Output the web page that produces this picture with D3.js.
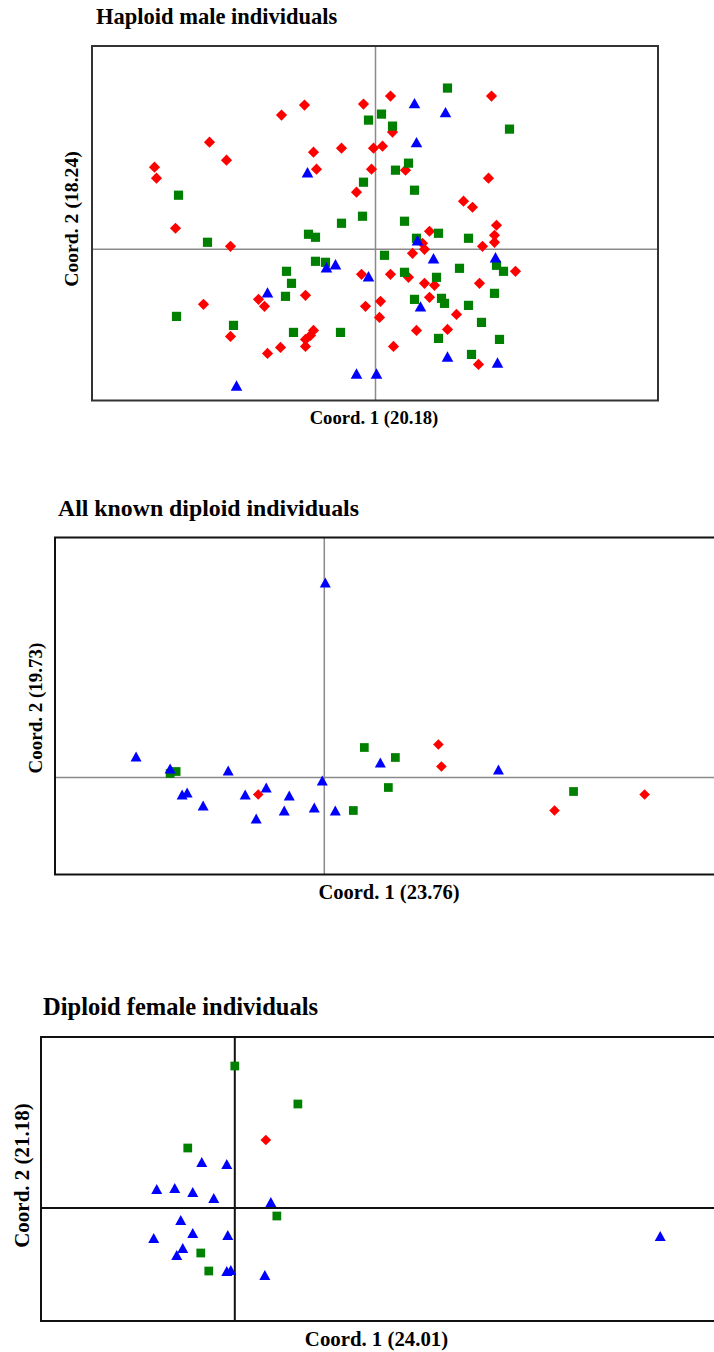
<!DOCTYPE html>
<html>
<head>
<meta charset="utf-8">
<script src="https://cdn.jsdelivr.net/npm/d3@7"></script>
<style>
  html, body { margin: 0; padding: 0; background: #fff; }
  svg { display: block; }
  text { font-family: "Liberation Serif", "Times New Roman", serif; font-weight: bold; fill: #000; }
</style>
</head>
<body>
<svg id="chart" width="714" height="1352"></svg>
<script>
// ---------- Titles and axis labels ----------
const panelTitles = ["Haploid male individuals", "All known diploid individuals", "Diploid female individuals"];
const xLabels = ["Coord. 1 (20.18)", "Coord. 1 (23.76)", "Coord. 1 (24.01)"];
const yLabels = ["Coord. 2 (18.24)", "Coord. 2 (19.73)", "Coord. 2 (21.18)"];

// ---------- Panel 1: Haploid male individuals (Coord.1, Coord.2) ----------
const p1Red = [
  [-2.21,0.82],[-2.19,0.71],[-1.66,1.07],[-1.49,0.89],[-0.94,1.34],[-0.71,1.44],[-0.62,0.97],[-0.59,0.80],
  [-0.34,1.01],[-0.12,1.45],[-0.02,1.01],[-0.04,0.80],[-0.19,0.57],[-2.00,0.21],[0.15,1.53],[1.16,1.53],
  [0.17,1.17],[0.07,1.03],[0.30,0.79],[1.13,0.71],[0.88,0.48],[0.97,0.42],[1.21,0.24],[-1.45,0.03],
  [-1.72,-0.55],[-1.17,-0.50],[-1.11,-0.57],[-0.70,-0.46],[-1.45,-0.87],[-1.08,-1.04],[-0.95,-0.98],
  [-0.62,-0.81],[-0.65,-0.86],[-0.70,-0.90],[-0.70,-0.97],[-0.14,-0.25],[-0.10,-0.57],[0.05,-0.52],
  [0.04,-0.68],[0.54,0.18],[1.19,0.14],[1.19,0.07],[1.07,0.03],[0.47,0.06],[0.49,0.00],[0.37,-0.04],
  [1.40,-0.22],[0.15,-0.25],[0.33,-0.28],[0.49,-0.34],[0.59,-0.36],[1.04,-0.34],[0.54,-0.48],[0.81,-0.65],
  [0.41,-0.81],[0.72,-0.80],[0.18,-0.97],[1.03,-1.15]
];
const p1Green = [
  [-0.07,1.29],[0.06,1.35],[-1.97,0.54],[-0.12,0.67],[-0.13,0.33],[-0.34,0.26],[0.72,1.61],[0.17,1.23],
  [1.34,1.20],[0.33,0.86],[0.20,0.79],[0.39,0.59],[0.29,0.28],[-1.68,0.07],[-0.67,0.15],[-0.60,0.12],
  [-0.60,-0.12],[-0.50,-0.13],[-0.89,-0.22],[-0.84,-0.34],[-0.90,-0.47],[-1.99,-0.67],[-1.42,-0.76],
  [-0.82,-0.83],[-0.35,-0.83],[0.09,-0.06],[0.41,0.11],[0.63,0.16],[0.93,0.11],[0.29,-0.23],[0.61,-0.28],
  [0.84,-0.19],[1.21,-0.16],[1.28,-0.22],[0.39,-0.50],[0.66,-0.49],[0.69,-0.54],[0.93,-0.56],[1.19,-0.44],
  [1.06,-0.73],[0.63,-0.89],[1.24,-0.90],[0.96,-1.05]
];
const p1Blue = [
  [-0.68,0.77],[0.39,1.46],[0.70,1.37],[0.41,1.07],[-1.08,-0.43],[-0.49,-0.18],[-0.40,-0.15],[-0.07,-0.27],
  [-1.39,-1.36],[-0.19,-1.24],[0.01,-1.24],[0.42,0.09],[0.58,-0.09],[1.20,-0.08],[0.45,-0.57],[0.72,-1.07],
  [1.22,-1.13]
];

// ---------- Panel 2: All known diploid individuals ----------
const p2Red = [[-0.66,-0.17],[1.14,0.33],[1.17,0.11],[2.30,-0.33],[3.20,-0.17]];
const p2Green = [[-1.54,0.04],[-1.48,0.06],[0.40,0.30],[0.29,-0.33],[0.71,0.20],[0.64,-0.10],[2.49,-0.14]];
const p2Blue = [
  [0.01,1.95],[-1.88,0.21],[-1.54,0.09],[-0.96,0.07],[-1.42,-0.17],[-1.37,-0.15],[-1.21,-0.28],[-0.79,-0.17],
  [-0.58,-0.10],[-0.35,-0.18],[-0.68,-0.41],[-0.40,-0.33],[-0.10,-0.30],[-0.02,-0.03],[0.11,-0.33],
  [0.56,0.15],[1.74,0.08]
];

// ---------- Panel 3: Diploid female individuals ----------
const p3Red = [[0.31,0.68]];
const p3Green = [[0.00,1.42],[0.63,1.04],[-0.47,0.60],[0.42,-0.08],[-0.34,-0.45],[-0.26,-0.63]];
const p3Blue = [
  [-0.33,0.46],[-0.08,0.44],[-0.78,0.19],[-0.60,0.20],[-0.42,0.16],[-0.21,0.10],[0.36,0.06],[-0.54,-0.12],
  [-0.42,-0.25],[-0.07,-0.27],[-0.81,-0.30],[-0.52,-0.40],[-0.58,-0.47],[-0.08,-0.63],[-0.04,-0.62],
  [0.30,-0.67],[4.25,-0.28]
];

// axis extents (data units)
const xDomains = [[-2.835, 2.825], [-2.69, 3.923], [-1.936, 4.817]];
const yDomains = [[-1.51, 2.03], [-0.97, 2.40], [-1.13, 1.71]];

// ---------- Drawing ----------
const svg = d3.select("#chart");
const colors = { red: "#ff0000", green: "#008000", blue: "#0000ff" };

const panels = [
  { red: p1Red, green: p1Green, blue: p1Blue,
    box: { l: 92, r: 658, t: 46, b: 400.5 }, frameColor: "#333", frameW: 2, crossColor: "#8a8a8a", crossW: 1.5,
    title: { x: 96, y: 24, size: 22.5 }, xl: { x: 374, y: 424, size: 18.7 }, yl: { x: 78, y: 219, size: 19.7 },
    ms: 1 },
  { red: p2Red, green: p2Green, blue: p2Blue,
    box: { l: 55, r: 717, t: 537.5, b: 874.5 }, frameColor: "#111", frameW: 2, crossColor: "#8a8a8a", crossW: 1.5,
    title: { x: 58, y: 516, size: 23.8 }, xl: { x: 389, y: 899, size: 20.5 }, yl: { x: 42, y: 708, size: 19 },
    ms: 0.95 },
  { red: p3Red, green: p3Green, blue: p3Blue,
    box: { l: 41, r: 717, t: 1037, b: 1321 }, frameColor: "#111", frameW: 2, crossColor: "#111", crossW: 2,
    title: { x: 43, y: 1015, size: 24.5 }, xl: { x: 376.5, y: 1346, size: 20.8 }, yl: { x: 29, y: 1175.5, size: 21 },
    ms: 0.95 }
];

function diamondPath(s) { const h = 5.6 * s; return `M0,${-h}L${h},0L0,${h}L${-h},0Z`; }
function squarePath(s) { const h = 4.6 * s; return `M${-h},${-h}H${h}V${h}H${-h}Z`; }
function trianglePath(s) { const w = 5.8 * s, h = 5.2 * s; return `M0,${-h}L${w},${h}L${-w},${h}Z`; }

panels.forEach((p, i) => {
  const g = svg.append("g");
  const x = d3.scaleLinear().domain(xDomains[i]).range([p.box.l, p.box.r]);
  const y = d3.scaleLinear().domain(yDomains[i]).range([p.box.b, p.box.t]);

  // crosshair at origin
  g.append("line").attr("x1", x(0)).attr("x2", x(0)).attr("y1", p.box.t).attr("y2", p.box.b)
    .attr("stroke", p.crossColor).attr("stroke-width", p.crossW);
  g.append("line").attr("x1", p.box.l).attr("x2", p.box.r).attr("y1", y(0)).attr("y2", y(0))
    .attr("stroke", p.crossColor).attr("stroke-width", p.crossW);

  // frame
  g.append("rect").attr("x", p.box.l).attr("y", p.box.t)
    .attr("width", p.box.r - p.box.l).attr("height", p.box.b - p.box.t)
    .attr("fill", "none").attr("stroke", p.frameColor).attr("stroke-width", p.frameW);

  // markers: red diamonds, green squares, blue triangles
  g.selectAll(".r").data(p.red).join("path").attr("class", "r")
    .attr("d", diamondPath(p.ms)).attr("fill", colors.red)
    .attr("transform", d => `translate(${x(d[0])},${y(d[1])})`);
  g.selectAll(".g").data(p.green).join("path").attr("class", "g")
    .attr("d", squarePath(p.ms)).attr("fill", colors.green)
    .attr("transform", d => `translate(${x(d[0])},${y(d[1])})`);
  g.selectAll(".b").data(p.blue).join("path").attr("class", "b")
    .attr("d", trianglePath(p.ms)).attr("fill", colors.blue)
    .attr("transform", d => `translate(${x(d[0])},${y(d[1])})`);

  // texts
  svg.append("text").attr("x", p.title.x).attr("y", p.title.y)
    .attr("font-size", p.title.size).text(panelTitles[i]);
  svg.append("text").attr("x", p.xl.x).attr("y", p.xl.y).attr("text-anchor", "middle")
    .attr("font-size", p.xl.size).text(xLabels[i]);
  svg.append("text").attr("transform", `translate(${p.yl.x},${p.yl.y}) rotate(-90)`)
    .attr("text-anchor", "middle").attr("font-size", p.yl.size).text(yLabels[i]);
});
</script>
</body>
</html>
